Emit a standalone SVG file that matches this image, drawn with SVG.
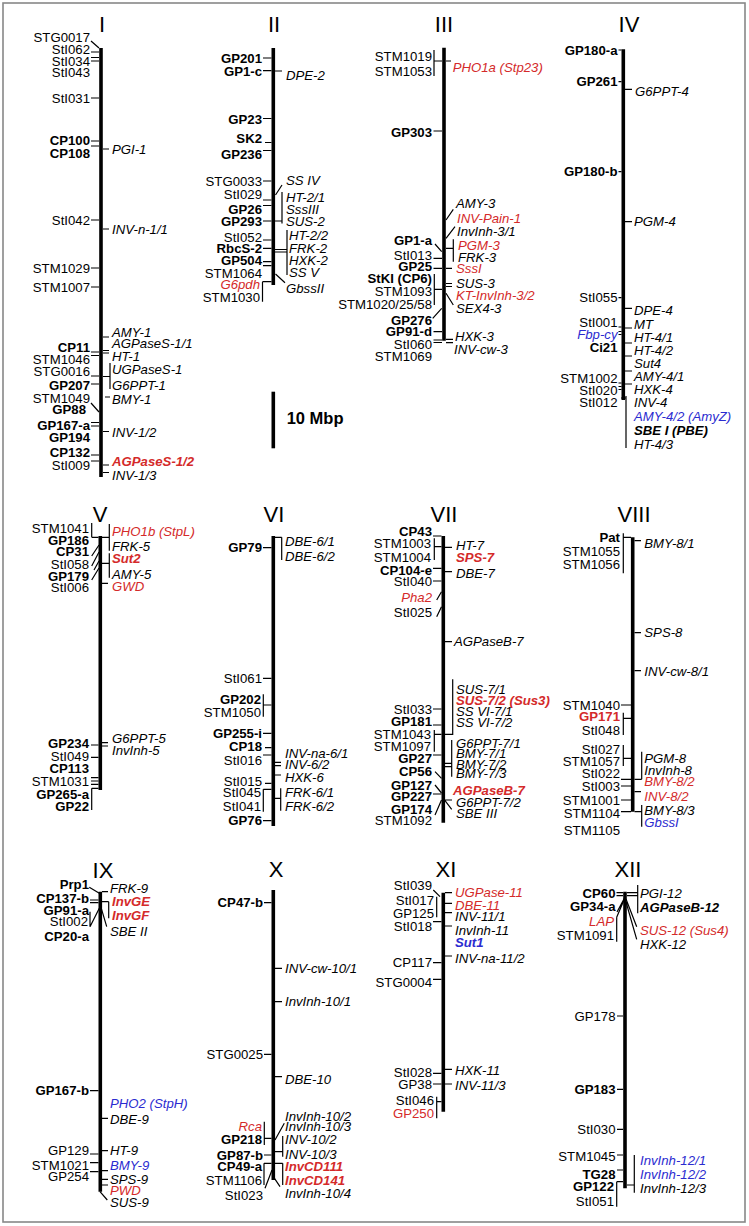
<svg xmlns="http://www.w3.org/2000/svg" width="749" height="1226" viewBox="0 0 749 1226">
<style>
.bar{stroke:#000;stroke-width:3.6;fill:none}
#connectors path{stroke:#000;stroke-width:1.2;fill:none}
text{font-family:"Liberation Sans",Arial,sans-serif;font-size:13.2px;fill:#000}
.L{text-anchor:end}
.R{font-style:italic}
.b{font-weight:bold}
.red{fill:#d42a2a}
.blu{fill:#2b2bd0}
.t{font-size:22px;text-anchor:middle}
</style>
<rect x="0" y="0" width="749" height="1226" fill="#fff"/>
<rect x="3" y="3" width="742" height="1219" fill="none" stroke="#888" stroke-width="1.6"/>

<g id="chrI">
<text class="t" x="102" y="32">I</text>
<line class="bar" x1="101" y1="48" x2="101" y2="477"/>
<g transform="translate(0,4.6)">
<text class="L" x="90" y="37">STG0017</text>
<text class="L" x="90" y="49">StI062</text>
<text class="L" x="90" y="61">StI034</text>
<text class="L" x="90" y="72">StI043</text>
<text class="L" x="90" y="98">StI031</text>
<text class="L b" x="90" y="140">CP100</text>
<text class="L b" x="90" y="153">CP108</text>
<text class="L" x="90" y="220">StI042</text>
<text class="L" x="90" y="268">STM1029</text>
<text class="L" x="90" y="287">STM1007</text>
<text class="L b" x="90" y="347">CP11</text>
<text class="L" x="90" y="359">STM1046</text>
<text class="L" x="90" y="371">STG0016</text>
<text class="L b" x="90" y="385">GP207</text>
<text class="L" x="90" y="398">STM1049</text>
<text class="L b" x="86" y="409">GP88</text>
<text class="L b" x="90" y="425">GP167-a</text>
<text class="L b" x="90" y="437">GP194</text>
<text class="L b" x="90" y="452">CP132</text>
<text class="L" x="90" y="465">StI009</text>
<text class="R" x="112" y="149">PGI-1</text>
<text class="R" x="112" y="229">INV-n-1/1</text>
<text class="R" x="112" y="332">AMY-1</text>
<text class="R" x="112" y="343">AGPaseS-1/1</text>
<text class="R" x="112" y="356">HT-1</text>
<text class="R" x="112" y="369">UGPaseS-1</text>
<text class="R" x="112" y="385">G6PPT-1</text>
<text class="R" x="112" y="399">BMY-1</text>
<text class="R" x="112" y="432">INV-1/2</text>
<text class="R b red" x="112" y="461">AGPaseS-1/2</text>
<text class="R" x="112" y="475">INV-1/3</text>
</g>
</g>

<g id="chrII">
<text class="t" x="274" y="32">II</text>
<line class="bar" x1="273.3" y1="48" x2="273.3" y2="285"/>
<g transform="translate(0,4.6)">
<text class="L b" x="262" y="58">GP201</text>
<text class="L b" x="262" y="71">GP1-c</text>
<text class="L b" x="262" y="119">GP23</text>
<text class="L b" x="262" y="138">SK2</text>
<text class="L b" x="262" y="154">GP236</text>
<text class="L" x="262" y="181">STG0033</text>
<text class="L" x="262" y="194">StI029</text>
<text class="L b" x="262" y="209">GP26</text>
<text class="L b" x="262" y="221">GP293</text>
<text class="L" x="262" y="237">StI052</text>
<text class="L b" x="262" y="248">RbcS-2</text>
<text class="L b" x="262" y="260">GP504</text>
<text class="L" x="262" y="273">STM1064</text>
<text class="L R red" x="260" y="284">G6pdh</text>
<text class="L" x="260" y="297">STM1030</text>
<text class="R" x="286" y="75">DPE-2</text>
<text class="R" x="286" y="180">SS IV</text>
<text class="R" x="286" y="197">HT-2/1</text>
<text class="R" x="286" y="209">SssIII</text>
<text class="R" x="286" y="221">SUS-2</text>
<text class="R" x="289" y="235">HT-2/2</text>
<text class="R" x="289" y="248">FRK-2</text>
<text class="R" x="289" y="260">HXK-2</text>
<text class="R" x="289" y="272">SS V</text>
<text class="R" x="286" y="288">GbssII</text>
</g>
</g>

<g id="scale">
<line class="bar" x1="273.3" y1="391.7" x2="273.3" y2="448.3"/>
<text class="b" x="286.7" y="424.3" style="font-size:16.5px">10 Mbp</text>
</g>

<g id="chrIII">
<text class="t" x="444" y="32">III</text>
<line class="bar" x1="444" y1="47.7" x2="444" y2="340.7"/>
<g transform="translate(0,4.6)">
<text class="L" x="432" y="56.7">STM1019</text>
<text class="L" x="432" y="71">STM1053</text>
<text class="L b" x="432" y="132.3">GP303</text>
<text class="L b" x="432" y="240">GP1-a</text>
<text class="L" x="432" y="255">StI013</text>
<text class="L b" x="432" y="266.7">GP25</text>
<text class="L b" x="432" y="278.3">StKI (CP6)</text>
<text class="L" x="432" y="291.7">STM1093</text>
<text class="L" x="432" y="304">STM1020/25/58</text>
<text class="L b" x="432" y="320">GP276</text>
<text class="L b" x="432" y="331.7">GP91-d</text>
<text class="L" x="432" y="344.3">StI060</text>
<text class="L" x="432" y="356.7">STM1069</text>
<text class="R red" x="452.7" y="67.7">PHO1a (Stp23)</text>
<text class="R" x="456" y="203.3">AMY-3</text>
<text class="R red" x="457" y="218.3">INV-Pain-1</text>
<text class="R" x="457" y="231">InvInh-3/1</text>
<text class="R red" x="458" y="245">PGM-3</text>
<text class="R" x="458" y="257.3">FRK-3</text>
<text class="R red" x="456" y="268.3">SssI</text>
<text class="R" x="456" y="283.3">SUS-3</text>
<text class="R red" x="456" y="295">KT-InvInh-3/2</text>
<text class="R" x="456" y="308.3">SEX4-3</text>
<text class="R" x="455" y="336.7">HXK-3</text>
<text class="R" x="454" y="349.3">INV-cw-3</text>
</g>
</g>

<g id="chrIV">
<text class="t" x="629" y="32">IV</text>
<line class="bar" x1="623.3" y1="49.3" x2="623.3" y2="400"/>
<g transform="translate(0,4.6)">
<text class="L b" x="617.5" y="50">GP180-a</text>
<text class="L b" x="617.5" y="81.7">GP261</text>
<text class="L b" x="617.5" y="171.7">GP180-b</text>
<text class="L" x="617.5" y="297.7">StI055</text>
<text class="L" x="617.5" y="322">StI001</text>
<text class="L R blu" x="617.5" y="334">Fbp-cy</text>
<text class="L b" x="617.5" y="347">Ci21</text>
<text class="L" x="617.5" y="378">STM1002</text>
<text class="L" x="617.5" y="390">StI020</text>
<text class="L" x="617.5" y="402">StI012</text>
<text class="R" x="635" y="91.7">G6PPT-4</text>
<text class="R" x="634" y="221.7">PGM-4</text>
<text class="R" x="634" y="310">DPE-4</text>
<text class="R" x="634" y="324">MT</text>
<text class="R" x="634" y="337">HT-4/1</text>
<text class="R" x="634" y="350">HT-4/2</text>
<text class="R" x="634" y="363">Sut4</text>
<text class="R" x="634" y="376">AMY-4/1</text>
<text class="R" x="634" y="389">HXK-4</text>
<text class="R" x="634" y="402">INV-4</text>
<text class="R blu" x="634" y="416">AMY-4/2 (AmyZ)</text>
<text class="R b" x="634" y="430">SBE I (PBE)</text>
<text class="R" x="634" y="444">HT-4/3</text>
</g>
</g>

<g id="chrV">
<text class="t" x="100" y="522">V</text>
<line class="bar" x1="100.3" y1="536" x2="100.3" y2="790"/>
<g transform="translate(0,4.6)">
<text class="L" x="89" y="528.3">STM1041</text>
<text class="L b" x="89" y="540">GP186</text>
<text class="L b" x="89" y="551">CP31</text>
<text class="L" x="89" y="564.3">StI058</text>
<text class="L b" x="89" y="576">GP179</text>
<text class="L" x="89" y="587.3">StI006</text>
<text class="L b" x="89" y="743.3">GP234</text>
<text class="L" x="89" y="756">StI049</text>
<text class="L b" x="89" y="768.3">CP113</text>
<text class="L" x="89" y="781">STM1031</text>
<text class="L b" x="89" y="794.3">GP265-a</text>
<text class="L b" x="89" y="806.7">GP22</text>
<text class="R red" x="112" y="531.7">PHO1b (StpL)</text>
<text class="R" x="112" y="546">FRK-5</text>
<text class="R b red" x="112" y="558.3">Sut2</text>
<text class="R" x="112" y="574.3">AMY-5</text>
<text class="R red" x="112" y="586.7">GWD</text>
<text class="R" x="112" y="738.3">G6PPT-5</text>
<text class="R" x="112" y="750.7">InvInh-5</text>
</g>
</g>

<g id="chrVI">
<text class="t" x="274" y="522">VI</text>
<line class="bar" x1="273.3" y1="536" x2="273.3" y2="826"/>
<g transform="translate(0,4.6)">
<text class="L b" x="262" y="547.7">GP79</text>
<text class="L" x="262" y="678.3">StI061</text>
<text class="L b" x="261" y="699.3">GP202</text>
<text class="L" x="261" y="712.7">STM1050</text>
<text class="L b" x="262" y="733.3">GP255-i</text>
<text class="L b" x="262" y="746.7">CP18</text>
<text class="L" x="262" y="760">StI016</text>
<text class="L" x="262" y="781.7">StI015</text>
<text class="L" x="261" y="792.7">StI045</text>
<text class="L" x="261" y="806.7">StI041</text>
<text class="L b" x="262" y="820.7">GP76</text>
<text class="R" x="285" y="541.7">DBE-6/1</text>
<text class="R" x="285" y="556">DBE-6/2</text>
<text class="R" x="285" y="753.3">INV-na-6/1</text>
<text class="R" x="285" y="764">INV-6/2</text>
<text class="R" x="285" y="777.3">HXK-6</text>
<text class="R" x="285" y="792.3">FRK-6/1</text>
<text class="R" x="285" y="806.7">FRK-6/2</text>
</g>
</g>

<g id="chrVII">
<text class="t" x="444" y="522">VII</text>
<line class="bar" x1="443.3" y1="536" x2="443.3" y2="822.7"/>
<g transform="translate(0,4.6)">
<text class="L b" x="432" y="531.7">CP43</text>
<text class="L" x="431" y="543.3">STM1003</text>
<text class="L" x="431" y="557.7">STM1004</text>
<text class="L b" x="432" y="570">CP104-e</text>
<text class="L" x="432" y="581">StI040</text>
<text class="L R red" x="432" y="597.3">Pha2</text>
<text class="L" x="432" y="612.7">StI025</text>
<text class="L" x="432" y="709">StI033</text>
<text class="L b" x="432" y="721.7">GP181</text>
<text class="L" x="431" y="734.3">STM1043</text>
<text class="L" x="431" y="746.7">STM1097</text>
<text class="L b" x="432" y="758.3">GP27</text>
<text class="L b" x="432" y="771.7">CP56</text>
<text class="L b" x="432" y="785">GP127</text>
<text class="L b" x="432" y="796.7">GP227</text>
<text class="L b" x="432" y="809.3">GP174</text>
<text class="L" x="432" y="820.7">STM1092</text>
<text class="R" x="456" y="545.7">HT-7</text>
<text class="R b red" x="456" y="557.7">SPS-7</text>
<text class="R" x="456" y="573.3">DBE-7</text>
<text class="R" x="454" y="641.7">AGPaseB-7</text>
<text class="R" x="456" y="689">SUS-7/1</text>
<text class="R b red" x="456" y="700.7">SUS-7/2 (Sus3)</text>
<text class="R" x="456" y="711.7">SS VI-7/1</text>
<text class="R" x="456" y="722.7">SS VI-7/2</text>
<text class="R" x="456" y="743.3">G6PPT-7/1</text>
<text class="R" x="456" y="753.3">BMY-7/1</text>
<text class="R" x="456" y="764.3">BMY-7/2</text>
<text class="R" x="456" y="773.3">BMY-7/3</text>
<text class="R b red" x="453" y="790.7">AGPaseB-7</text>
<text class="R" x="456" y="802.7">G6PPT-7/2</text>
<text class="R" x="456" y="813.3">SBE III</text>
</g>
</g>

<g id="chrVIII">
<text class="t" x="634" y="522">VIII</text>
<line class="bar" x1="632.7" y1="537.3" x2="632.7" y2="811.7"/>
<g transform="translate(0,4.6)">
<text class="L b" x="620" y="537.3">Pat</text>
<text class="L" x="620" y="551">STM1055</text>
<text class="L" x="620" y="564.3">STM1056</text>
<text class="L" x="620" y="705">STM1040</text>
<text class="L b red" x="620" y="716.7">GP171</text>
<text class="L" x="620" y="730">StI048</text>
<text class="L" x="620" y="749.3">StI027</text>
<text class="L" x="620" y="761.7">STM1057</text>
<text class="L" x="620" y="773.3">StI022</text>
<text class="L" x="620" y="786.7">StI003</text>
<text class="L" x="620" y="800">STM1001</text>
<text class="L" x="620" y="813.3">STM1104</text>
<text class="L" x="620" y="830">STM1105</text>
<text class="R" x="644.3" y="543.3">BMY-8/1</text>
<text class="R" x="644.3" y="632.7">SPS-8</text>
<text class="R" x="644.3" y="671.7">INV-cw-8/1</text>
<text class="R" x="644.3" y="758.3">PGM-8</text>
<text class="R" x="644.3" y="770.7">InvInh-8</text>
<text class="R red" x="644.3" y="781.7">BMY-8/2</text>
<text class="R red" x="644.3" y="796.7">INV-8/2</text>
<text class="R" x="644.3" y="810">BMY-8/3</text>
<text class="R blu" x="644.3" y="822.7">GbssI</text>
</g>
</g>

<g id="chrIX">
<text class="t" x="103" y="878">IX</text>
<line class="bar" x1="100.3" y1="891.7" x2="100.3" y2="1191.7"/>
<g transform="translate(0,4.6)">
<text class="L b" x="89" y="884">Prp1</text>
<text class="L b" x="89" y="898.3">CP137-b</text>
<text class="L b" x="89" y="910.7">GP91-a</text>
<text class="L" x="88" y="921.7">StI002</text>
<text class="L b" x="89" y="936.7">CP20-a</text>
<text class="L b" x="89" y="1090.7">GP167-b</text>
<text class="L" x="89" y="1150.7">GP129</text>
<text class="L" x="89" y="1165">STM1021</text>
<text class="L" x="89" y="1176.7">GP254</text>
<text class="R" x="110" y="888.3">FRK-9</text>
<text class="R b red" x="112" y="901.7">InvGE</text>
<text class="R b red" x="112" y="915">InvGF</text>
<text class="R" x="110" y="931.7">SBE II</text>
<text class="R blu" x="110" y="1103.3">PHO2 (StpH)</text>
<text class="R" x="110" y="1119.3">DBE-9</text>
<text class="R" x="110" y="1150.7">HT-9</text>
<text class="R blu" x="110" y="1165.7">BMY-9</text>
<text class="R" x="110" y="1179.3">SPS-9</text>
<text class="R red" x="110" y="1190.7">PWD</text>
<text class="R" x="110" y="1202.7">SUS-9</text>
</g>
</g>

<g id="chrX">
<text class="t" x="276" y="877">X</text>
<line class="bar" x1="273.3" y1="890" x2="273.3" y2="1180"/>
<g transform="translate(0,4.6)">
<text class="L b" x="263" y="902.7">CP47-b</text>
<text class="L" x="263" y="1054.3">STG0025</text>
<text class="L R red" x="262" y="1126.7">Rca</text>
<text class="L b" x="262" y="1139.3">GP218</text>
<text class="L b" x="263" y="1155">GP87-b</text>
<text class="L b" x="262" y="1166.7">CP49-a</text>
<text class="L" x="262" y="1180">STM1106</text>
<text class="L" x="263" y="1195">StI023</text>
<text class="R" x="285" y="968.3">INV-cw-10/1</text>
<text class="R" x="285" y="1001.7">InvInh-10/1</text>
<text class="R" x="285" y="1079.3">DBE-10</text>
<text class="R" x="285" y="1116">InvInh-10/2</text>
<text class="R" x="285" y="1126.7">InvInh-10/3</text>
<text class="R" x="285" y="1139.3">INV-10/2</text>
<text class="R" x="285" y="1154">INV-10/3</text>
<text class="R b red" x="285" y="1166.7">InvCD111</text>
<text class="R b red" x="285" y="1180">InvCD141</text>
<text class="R" x="285" y="1193.3">InvInh-10/4</text>
</g>
</g>

<g id="chrXI">
<text class="t" x="446" y="877">XI</text>
<line class="bar" x1="443.3" y1="892.7" x2="443.3" y2="1111.7"/>
<g transform="translate(0,4.6)">
<text class="L" x="432" y="885">StI039</text>
<text class="L" x="434" y="900.7">StI017</text>
<text class="L" x="434" y="913.3">GP125</text>
<text class="L" x="432" y="926.7">StI018</text>
<text class="L" x="432" y="962.7">CP117</text>
<text class="L" x="432" y="982.7">STG0004</text>
<text class="L" x="432" y="1072.7">StI028</text>
<text class="L" x="432" y="1084">GP38</text>
<text class="L" x="434" y="1100.7">StI046</text>
<text class="L red" x="434" y="1113.3">GP250</text>
<text class="R red" x="455" y="892.7">UGPase-11</text>
<text class="R red" x="455" y="905">DBE-11</text>
<text class="R" x="455" y="916">INV-11/1</text>
<text class="R" x="455" y="930">InvInh-11</text>
<text class="R b blu" x="455" y="942.7">Sut1</text>
<text class="R" x="455" y="958.3">INV-na-11/2</text>
<text class="R" x="455" y="1070">HXK-11</text>
<text class="R" x="455" y="1085">INV-11/3</text>
</g>
</g>

<g id="chrXII">
<text class="t" x="628" y="877">XII</text>
<line class="bar" x1="625" y1="891.7" x2="625" y2="1188.3"/>
<g transform="translate(0,4.6)">
<text class="L b" x="615.5" y="893.3">CP60</text>
<text class="L b" x="615.5" y="906.7">GP34-a</text>
<text class="L R red" x="614" y="921.7">LAP</text>
<text class="L" x="614" y="935">STM1091</text>
<text class="L" x="615.5" y="1016">GP178</text>
<text class="L b" x="615.5" y="1089.3">GP183</text>
<text class="L" x="615.5" y="1129.3">StI030</text>
<text class="L" x="615.5" y="1156">STM1045</text>
<text class="L b" x="615.5" y="1174">TG28</text>
<text class="L b" x="614" y="1186">GP122</text>
<text class="L" x="614" y="1201.7">StI051</text>
<text class="R" x="640" y="893.3">PGI-12</text>
<text class="R b" x="640" y="907.3">AGPaseB-12</text>
<text class="R red" x="640" y="930">SUS-12 (Sus4)</text>
<text class="R" x="640" y="944">HXK-12</text>
<text class="R blu" x="640" y="1160">InvInh-12/1</text>
<text class="R blu" x="640" y="1174.3">InvInh-12/2</text>
<text class="R" x="640" y="1188.3">InvInh-12/3</text>
</g>
</g>

<g id="connectors">
<path d="M91 41L99 48 M91 52H99 M91 57.5H99 M91 61H99 M91 98H99 M91 141H99 M91 146H99 M103 149H109 M91 220H99 M103 229H109 M91 268H99 M91 287H99 M103 337H109 M91 352H99 M103 350.5H109 M91 355.5H99 M103 353H109 M91 376H99 M91 384H99 M103 376.5H110 M110 363V389 M105 397H110 M91 403L99 412 M91 422.5H99 M91 426H99 M103 431.5H109 M91 455H99 M91 461H99 M103 465H109 M103 472.5H109"/>
<path d="M263 58H271.5 M263 70.7H271.5 M275 71H282 M263 118.5H271.5 M265 142.5H271.5 M263 150.5H271.5 M263 181H271.5 M282 185L275.5 195 M263 200H271.5 M263 205.5H271.5 M263 221H271.5 M275 221H282 M282 192V223.5 M263 240H271.5 M263 248.3H271.5 M263 261.7H271.5 M263 265.7H271.5 M275 249.5H287 M275 252H287 M287 230V275 M262.5 281.7H271.5 M262.5 281.7V301.7 M275.5 274L285 282.7"/>
<path d="M434 50V76 M434 61H442 M446 61H451 M433.5 131H442 M453.3 209.3L446 220 M455 226.7L446 238.3 M435 244L441.7 251.7 M446 248.3H453.3 M453.3 239.3V261.7 M433.5 258.3H442 M433.5 268.3H442 M446 268.3H452 M434.3 274V305 M434.3 289.3H442 M446 283.5H452 M446 286.5H452 M446 293.3L453.3 305 M432.7 318.3L441.7 308.3 M433.5 331.7H442 M446 339.3H453 M433.5 340H442 M433.5 342.5H442 M446 342.7H453"/>
<path d="M618.5 50H621.5 M618.5 81.7H621.5 M625 89.3H632 M618.5 171.7H621.5 M625 221.7H632 M618.5 297.7H621.5 M625 308.3H632 M618.5 327H621.5 M625 328H632 M618.5 331.5H621.5 M618.5 334.5H621.5 M625 343H632 M625 356H632 M625 371H632 M618.5 383H621.5 M625 384H632 M618.5 386.5H621.5 M618.5 389.5H621.5 M621 398H626 M626 396V448"/>
<path d="M91.7 523V537.3 M91.7 537.3H98.5 M102 537.3H109.3 M109.3 524V550.7 M91.7 556L99 545 M91.7 566L99 552 M94 570L99 561 M91.7 580L99 568 M102 563.3H109.3 M109.3 553.3V577.7 M102 583.3H108 M91 745H98.5 M102 742.7H108 M102 746H108 M91 757.3H98.5 M91 777.7H98.5 M91 781H98.5 M91 784.3H98.5 M91.7 788.3H98.5 M91.7 788.3V810"/>
<path d="M263 547.7H271.5 M275 537.3H281.7 M281.7 537.3V560 M263 678.3H271.5 M263.3 694.3V716.7 M263.3 705H271.5 M263 733.3H271.5 M265 747.7H271.5 M263 755H271.5 M275 762.3H281 M275 765.7H281 M275 775H281 M265 783.3H271.5 M263.3 789.3V811.7 M263.3 789.3H271.5 M275 798.3H280.7 M280.7 788.3V810.7 M263 820.7H271.5"/>
<path d="M433 536H441.5 M434.3 538.3V560 M434.3 546.7H441.5 M445 547.3H452 M433 568.3H441.5 M445 571.7H452 M433 581H441.5 M436.7 600L441.5 591.7 M436.7 616.7L441.5 606.7 M445 641.7H452 M433 709H441.5 M433 725H441.5 M445 734.3H452.7 M452.7 679.3V735 M434.3 730V751.7 M434.3 734.3H441.5 M433 755H441.5 M445 763.3H451.7 M445 766.7H451.7 M451.7 740V776.7 M435 771.7L441.5 778.3 M435 785L441.5 793 M433 794H441.5 M445 800H452 M445 800.7L451.7 809.3 M435 815L441.5 800"/>
<path d="M623.3 533.3V573.3 M623.3 537.3H631 M634.5 540.7H641 M634.5 632.7H641 M634.5 670.7H641 M621 705H631 M623.3 712.7V735 M623.3 718.3H631 M623.3 745V766 M623.3 758.3H631 M621 779.3H631 M634.5 779.3H641.7 M641.7 751.7V779.3 M621 786H631 M634.5 791.7H641 M621 800H631 M621 811.7H631 M634.5 811.7H641.7 M641.7 805V826.7"/>
<path d="M89.3 887.3L99.3 893.3 M102 891.7H108 M90 900H98.5 M90 902.7H98.5 M102 901.7H108.7 M108.7 901.7V918.3 M90 911.7V926.7 M90 926.7L99.3 908.3 M101.3 908.3L106.7 926.7 M90 1090.7H98.5 M102 1118.3H108 M102 1150.7H108 M90 1154H98.5 M90 1162.7H98.5 M102 1170.7H108 M90 1171.7H98.5 M102 1179.3H108 M102 1185H108 M100 1191.7L107.3 1200"/>
<path d="M264 902.7H271.5 M275 968.3H282 M275 1001.7H282 M264 1054.3H271.5 M275 1076.7H282 M264.3 1121.7V1145 M264.3 1138.3H271.5 M284.3 1123.3L275 1140 M282.7 1136V1156.7 M275 1151.7H282.7 M264 1155H271.5 M264 1163.3H271.5 M264 1163.3V1185 M275 1163.3H282.7 M282.7 1163.3V1185 M265 1188.3L272 1170 M274.5 1178.3L280 1186.7"/>
<path d="M433.3 890L440 896.7 M436.7 896.7V917.3 M433 921.7H441.5 M445 892.7H452 M445 903.3H452 M445 912.7H452 M445 926H452 M445 956H452 M433 962.7H441.5 M433 979.3H441.5 M445 1069.3H452 M433 1073.3H441.5 M433 1084H441.5 M445 1084H452 M436.7 1096.7V1118.3 M436.7 1101.7H441.5"/>
<path d="M616.5 892.7H623 M616.5 895.7H623 M627 892.7H637.7 M627 895.7H637.7 M637.7 885V913.3 M617 912L624.5 898 M616.7 917.3V941.7 M616.7 917.3L624 900 M626 899L636.7 926.7 M626 902L636.7 939.3 M617 1016H623 M617 1089.3H623 M617 1129.3H623 M617 1155H623 M617 1170H623 M616.7 1181.7V1206.7 M616.7 1181.7H623 M627 1185H634.3 M634.3 1155V1192.7"/>
</g>
</svg>
